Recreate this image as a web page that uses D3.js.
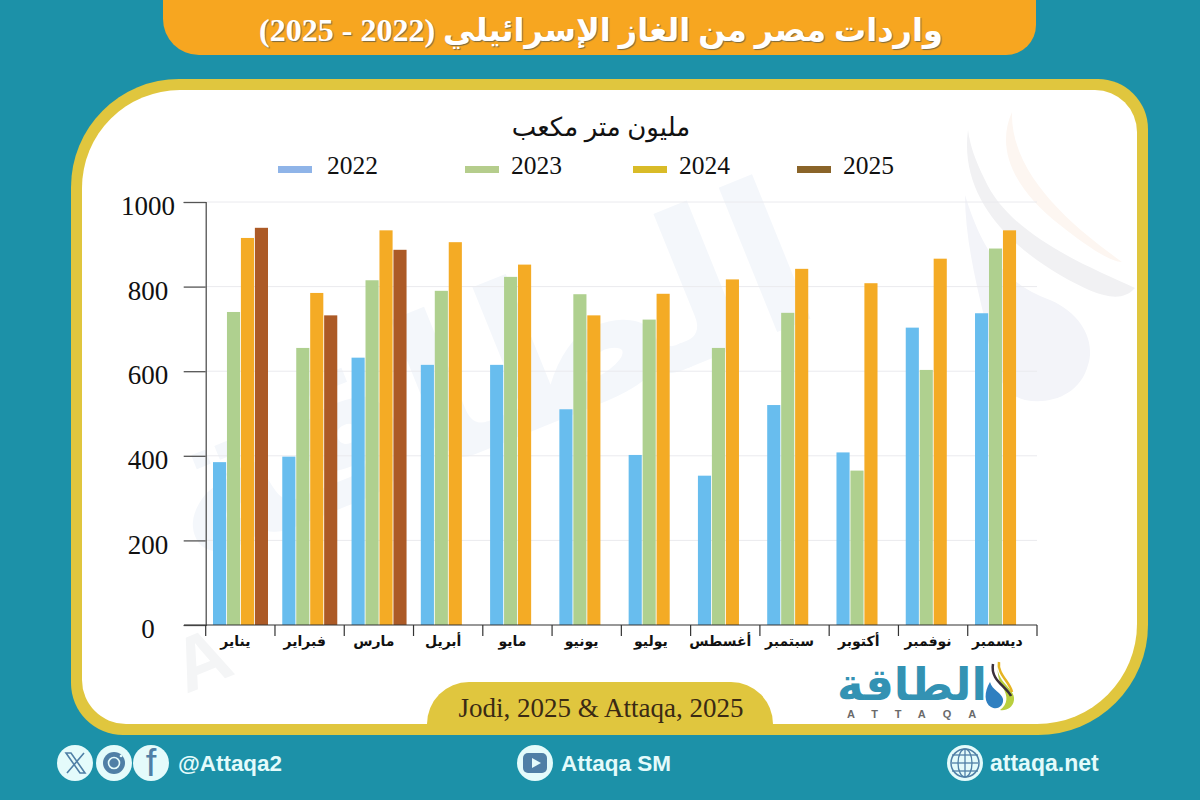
<!DOCTYPE html>
<html>
<head>
<meta charset="utf-8">
<script src="https://cdn.jsdelivr.net/npm/d3@7"></script>
<style>
  html, body { margin: 0; padding: 0; background: #1c91a8; }
  svg { display: block; }
</style>
</head>
<body>
<div id="root"></div>
<script>
const months = ['يناير', 'فبراير', 'مارس', 'أبريل', 'مايو', 'يونيو', 'يوليو', 'أغسطس', 'سبتمبر', 'أكتوبر', 'نوفمبر', 'ديسمبر']
const years = ['2022', '2023', '2024', '2025']
const values2022 = [385, 398, 632, 615, 615, 510, 402, 353, 520, 408, 703, 737]
const values2023 = [740, 655, 815, 790, 823, 782, 722, 655, 738, 365, 603, 890]
const values2024 = [915, 785, 933, 905, 852, 732, 783, 817, 842, 808, 866, 933]
const values2025 = [939, 732, 887]
const yTicks = [0, 200, 400, 600, 800, 1000]
const colors = ['#68bdee', '#afd08f', '#f4ab25', '#ac5a26']
const legendColors = ['#8fb4e8', '#b5cd8c', '#d9bb28', '#8a6429']

const serif = '"Liberation Serif", "DejaVu Sans", serif'
const sans = '"Liberation Sans", "DejaVu Sans", sans-serif'

const svg = d3.select('#root').append('svg')
  .attr('width', 1200)
  .attr('height', 800)

svg.append('rect').attr('width', 1200).attr('height', 800).attr('fill', '#1c91a8')

// rounded box with its own radius on each corner
function box(x0, y0, x1, y1, tl, tr, br, bl) {
  const p = d3.path()
  p.moveTo(x0 + tl, y0)
  p.lineTo(x1 - tr, y0)
  p.arcTo(x1, y0, x1, y0 + tr, tr)
  p.lineTo(x1, y1 - br)
  p.arcTo(x1, y1, x1 - br, y1, br)
  p.lineTo(x0 + bl, y1)
  p.arcTo(x0, y1, x0, y1 - bl, bl)
  p.lineTo(x0, y0 + tl)
  if (tl) p.arcTo(x0, y0, x0 + tl, y0, tl)
  p.closePath()
  return p.toString()
}

// header
svg.append('path')
  .attr('d', box(163, -2, 1036, 55, 0, 0, 30, 36))
  .attr('fill', '#f7a620')
svg.append('text')
  .attr('x', 601).attr('y', 41)
  .attr('text-anchor', 'middle')
  .attr('direction', 'rtl')
  .attr('font-family', serif)
  .attr('font-weight', 'bold')
  .attr('font-size', 32)
  .attr('fill', '#fff')
  .style('text-shadow', '1px 1px 1px #7a6a40')
  .text('واردات مصر من الغاز الإسرائيلي (2022 - 2025)')

// panel
svg.append('path')
  .attr('d', box(71, 79, 1148, 735, 108, 50, 110, 52))
  .attr('fill', '#e0c63e')
svg.append('path')
  .attr('d', box(82, 90, 1137, 724, 98, 42, 100, 44))
  .attr('fill', '#fff')

// faint watermark behind the plot
const wm = svg.append('g').attr('pointer-events', 'none')
wm.append('text')
  .attr('transform', 'translate(510,440) rotate(-22)')
  .attr('text-anchor', 'middle')
  .attr('direction', 'rtl')
  .attr('font-family', sans)
  .attr('font-weight', 'bold')
  .attr('font-size', 205)
  .attr('fill', '#f4f7fb')
  .text('الطاقة')
wm.append('path')
  .attr('d', 'M968 130 C960 190 1000 240 1060 275 C1095 295 1120 305 1135 288 C1085 265 1010 235 985 180 C975 160 970 145 968 130Z')
  .attr('fill', '#f1f1f3')
wm.append('path')
  .attr('d', 'M1012 112 C995 150 1015 190 1060 225 C1085 245 1110 262 1122 262 C1085 235 1010 180 1012 112Z')
  .attr('fill', '#fdf6f1')
wm.append('path')
  .attr('d', 'M965 195 C985 260 1010 285 1050 300 C1085 315 1095 345 1088 365 C1080 395 1050 405 1025 400 C1000 395 990 360 985 320 C975 280 965 235 965 195Z')
  .attr('fill', '#f3f4f9')
wm.append('text')
  .attr('transform', 'translate(186,694) rotate(-22)')
  .attr('font-family', sans).attr('font-weight', 'bold')
  .attr('font-size', 76).attr('fill', '#f4f5f6')
  .text('A')

// scales
const margin = { left: 205.7, right: 1037, top: 202, bottom: 625 }
const x = d3.scaleBand().domain(months).range([margin.left, margin.right])
const x1 = d3.scaleBand().domain(years).range([7.3, 62.3]).paddingInner(0.06)
const y = d3.scaleLinear().domain([0, 1000]).range([margin.bottom, margin.top])

// grid
svg.append('g')
  .selectAll('line')
  .data(yTicks.filter(d => d > 0))
  .join('line')
  .attr('x1', margin.left).attr('x2', margin.right)
  .attr('y1', d => y(d)).attr('y2', d => y(d))
  .attr('stroke', '#eaeaee').attr('stroke-width', 1)

// bars
const series = [values2022, values2023, values2024, values2025]
series.forEach((values, i) => {
  svg.append('g')
    .selectAll('rect')
    .data(values)
    .join('rect')
    .attr('x', (d, j) => x(months[j]) + x1(years[i]))
    .attr('y', d => y(d))
    .attr('width', x1.bandwidth())
    .attr('height', d => y(0) - y(d))
    .attr('fill', colors[i])
})

// axes
const yAxis = svg.append('g')
  .attr('transform', `translate(${margin.left},0)`)
  .call(d3.axisLeft(y).tickValues(yTicks).tickFormat(d3.format('d')).tickSize(22))
yAxis.select('.domain').attr('stroke', '#444').attr('stroke-width', 1.2)
yAxis.selectAll('line').attr('stroke', '#555').attr('stroke-width', 1.3)
// labels sit centred in their column, a little under the tick
yAxis.selectAll('text')
  .attr('text-anchor', 'middle')
  .attr('x', 148 - margin.left)
  .attr('dy', '0.47em')
  .attr('font-family', serif).attr('font-size', 27).attr('fill', '#111')

const xAxis = svg.append('g')
  .attr('transform', `translate(0,${margin.bottom})`)
  .call(d3.axisBottom(x).tickSize(0).tickPadding(11))
xAxis.select('.domain').remove()
xAxis.selectAll('text')
  .attr('dx', -5)
  .attr('font-family', sans).attr('font-size', 14).attr('font-weight', 'bold')
  .attr('fill', '#111').attr('direction', 'rtl')
xAxis.append('line')
  .attr('x1', 184).attr('x2', margin.right)
  .attr('stroke', '#333').attr('stroke-width', 1.2)
xAxis.selectAll('.sep')
  .data(months.concat('end'))
  .join('line')
  .attr('class', 'sep')
  .attr('x1', (d, i) => margin.left + i * x.step())
  .attr('x2', (d, i) => margin.left + i * x.step())
  .attr('y1', 0).attr('y2', 11)
  .attr('stroke', '#333').attr('stroke-width', 1.2)

// unit + legend
svg.append('text')
  .attr('x', 601).attr('y', 136)
  .attr('text-anchor', 'middle').attr('direction', 'rtl')
  .attr('font-family', serif).attr('font-size', 26).attr('fill', '#111')
  .text('مليون متر مكعب')

const legendPos = [278, 465, 633, 797]
const legendTextPos = [327, 511, 679, 843]
const legend = svg.append('g')
legend.selectAll('rect')
  .data(years)
  .join('rect')
  .attr('x', (d, i) => legendPos[i])
  .attr('y', 166).attr('width', 34).attr('height', 7)
  .attr('fill', (d, i) => legendColors[i])
legend.selectAll('text')
  .data(years)
  .join('text')
  .attr('x', (d, i) => legendTextPos[i]).attr('y', 174)
  .attr('font-family', serif).attr('font-size', 25.5).attr('fill', '#111')
  .text(d => d)

// source pill
svg.append('path')
  .attr('d', box(427, 682, 773, 725, 42, 42, 0, 0))
  .attr('fill', '#e0c63e')
svg.append('text')
  .attr('x', 601).attr('y', 717)
  .attr('text-anchor', 'middle')
  .attr('font-family', serif).attr('font-size', 27).attr('fill', '#3a2a14')
  .text('Jodi, 2025 & Attaqa, 2025')

// logo
svg.append('text')
  .attr('x', 912).attr('y', 700)
  .attr('text-anchor', 'middle').attr('direction', 'rtl')
  .attr('font-family', sans).attr('font-weight', 'bold')
  .attr('font-size', 45).attr('fill', '#3392b3')
  .text('الطاقة')
svg.append('text')
  .attr('x', 847).attr('y', 718)
  .attr('font-family', sans).attr('font-size', 11).attr('font-weight', 'bold')
  .attr('letter-spacing', 17).attr('fill', '#6a6a6a')
  .text('ATTAQA')
const drop = svg.append('g')
drop.append('path')
  .attr('d', 'M998 662 C994 682 1016 688 1014 700 C1013 708 1006 711 1000 710 C1008 704 1008 696 1003 688 C998 680 997 672 998 662Z')
  .attr('fill', '#b9cf3e')
drop.append('path')
  .attr('d', 'M993 664 C990 680 1006 686 1011 696')
  .attr('fill', 'none').attr('stroke', '#3a2f3a').attr('stroke-width', 2.5)
drop.append('path')
  .attr('d', 'M999 662 C997 674 1010 682 1012 692')
  .attr('fill', 'none').attr('stroke', '#e6b422').attr('stroke-width', 2.5)
drop.append('path')
  .attr('d', 'M990 682 C984 692 984 703 991 707 C998 711 1004 705 1003 699 C1002 693 992 690 990 682Z')
  .attr('fill', '#2f7fc0')

// footer
const footerText = '#e4fbfb'
const footY = 763
function footerLabel(xPos, label, size) {
  svg.append('text')
    .attr('x', xPos).attr('y', footY + 8)
    .attr('font-family', sans).attr('font-weight', 'bold')
    .attr('font-size', size).attr('fill', footerText)
    .text(label)
}
footerLabel(178, '@Attaqa2', 22.4)
footerLabel(561, 'Attaqa SM', 22.5)
footerLabel(990, 'attaqa.net', 23)

const iconBlue = '#4f7fa6'
;[75, 114, 151, 535, 965].forEach(cx => {
  svg.append('circle')
    .attr('cx', cx).attr('cy', footY).attr('r', 18)
    .attr('fill', footerText)
})
// X
svg.append('path')
  .attr('d', 'M66 753 L71 753 L85 773 L80 773Z M84 753 L67 773')
  .attr('fill', 'none').attr('stroke', iconBlue).attr('stroke-width', 1.6)
// instagram
svg.append('circle').attr('cx', 114).attr('cy', footY).attr('r', 11).attr('fill', iconBlue)
svg.append('circle').attr('cx', 114).attr('cy', footY).attr('r', 5.5)
  .attr('fill', 'none').attr('stroke', footerText).attr('stroke-width', 1.6)
svg.append('circle').attr('cx', 121).attr('cy', footY - 7).attr('r', 1.3).attr('fill', footerText)
// f
svg.append('text')
  .attr('x', 151).attr('y', footY + 13)
  .attr('text-anchor', 'middle')
  .attr('font-family', sans).attr('font-size', 38).attr('fill', iconBlue)
  .text('f')
// youtube
svg.append('rect').attr('x', 523).attr('y', 753).attr('width', 24).attr('height', 20).attr('rx', 5).attr('fill', iconBlue)
svg.append('path').attr('d', 'M532 758 L541 763 L532 768Z').attr('fill', footerText)
// globe
svg.append('circle').attr('cx', 965).attr('cy', footY).attr('r', 14)
  .attr('fill', 'none').attr('stroke', iconBlue).attr('stroke-width', 1.5)
svg.append('ellipse').attr('cx', 965).attr('cy', footY).attr('rx', 7).attr('ry', 14)
  .attr('fill', 'none').attr('stroke', iconBlue).attr('stroke-width', 1.3)
;[-8, 0, 8].forEach(dy => {
  svg.append('line')
    .attr('x1', 952).attr('x2', 978)
    .attr('y1', footY + dy).attr('y2', footY + dy)
    .attr('stroke', iconBlue).attr('stroke-width', 1.3)
})
svg.append('line').attr('x1', 965).attr('x2', 965).attr('y1', footY - 14).attr('y2', footY + 14)
  .attr('stroke', iconBlue).attr('stroke-width', 1.3)
</script>
</body>
</html>
